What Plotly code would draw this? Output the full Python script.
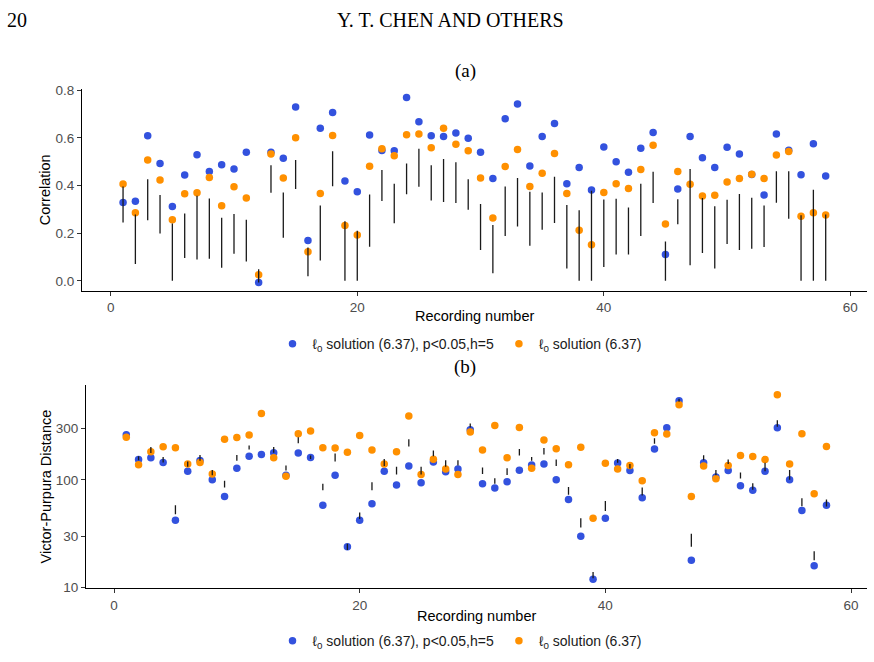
import plotly.graph_objects as go

# ---------------- data ----------------
rec = list(range(1, 59))

corr_l0_p = [0.329, 0.334, 0.609, 0.493, 0.312, 0.444, 0.529, 0.459, 0.487, 0.469,
             0.540, -0.007, 0.540, 0.515, 0.730, 0.169, 0.641, 0.707, 0.419, 0.374,
             0.612, 0.547, 0.546, 0.770, 0.668, 0.609, 0.606, 0.621, 0.599, 0.540,
             0.430, 0.680, 0.742, 0.482, 0.606, 0.660, 0.408, 0.476, 0.381, 0.562,
             0.500, 0.456, 0.557, 0.623, 0.110, 0.386, 0.606, 0.517, 0.476, 0.561,
             0.532, 0.446, 0.360, 0.616, 0.548, 0.445, 0.576, 0.440]
corr_l0 = [0.407, 0.286, 0.507, 0.423, 0.256, 0.366, 0.370, 0.434, 0.315, 0.395,
           0.348, 0.025, 0.532, 0.432, 0.601, 0.122, 0.367, 0.610, 0.232, 0.192,
           0.481, 0.555, 0.525, 0.613, 0.616, 0.559, 0.641, 0.573, 0.546, 0.432,
           0.264, 0.480, 0.551, 0.396, 0.452, 0.535, 0.367, 0.212, 0.151, 0.371,
           0.408, 0.388, 0.467, 0.569, 0.239, 0.459, 0.405, 0.356, 0.359, 0.415,
           0.430, 0.447, 0.430, 0.528, 0.543, 0.271, 0.286, 0.276]
corr_lo = [0.245, 0.071, 0.254, 0.199, 0.0, 0.096, 0.089, 0.093, 0.055, 0.114,
           0.081, -0.007, 0.370, 0.181, 0.385, 0.019, 0.085, 0.397, 0.0, 0.0,
           0.143, 0.335, 0.242, 0.363, 0.395, 0.337, 0.331, 0.327, 0.298, 0.129,
           0.032, 0.188, 0.228, 0.147, 0.214, 0.243, 0.052, 0.0, 0.0, 0.058,
           0.110, 0.110, 0.188, 0.327, 0.0, 0.238, 0.065, 0.117, 0.052, 0.155,
           0.129, 0.135, 0.142, 0.328, 0.261, 0.0, 0.0, 0.0]
corr_hi = [0.396, 0.278, 0.426, 0.360, 0.241, 0.283, 0.357, 0.346, 0.265, 0.280,
           0.256, 0.048, 0.485, 0.371, 0.507, 0.140, 0.316, 0.544, 0.250, 0.210,
           0.362, 0.465, 0.408, 0.493, 0.555, 0.485, 0.511, 0.498, 0.426, 0.323,
           0.234, 0.396, 0.432, 0.374, 0.371, 0.437, 0.318, 0.296, 0.378, 0.341,
           0.345, 0.308, 0.408, 0.458, 0.165, 0.342, 0.469, 0.348, 0.313, 0.340,
           0.364, 0.349, 0.316, 0.460, 0.460, 0.275, 0.382, 0.278]

vp_l0_p = [262, 154, 160, 145, 42.1, 120, 151, 100, 70, 128,
           165, 172, 178, 110, 177, 161, 58, 110, 23.9, 42.1,
           60, 120, 89.5, 134, 94, 146, 119, 126, 291, 92,
           84, 96, 122.5, 137, 140, 100, 65.8, 29.9, 12.0, 43.9,
           143, 122, 68, 193, 303, 541, 18.0, 144, 106, 122,
           88, 80, 120, 303, 100, 51.9, 16, 58]
vp_l0 = [248, 138, 182, 202, 198, 140, 145, 113, 238, 246,
         260, 412, 160, 108, 267, 283, 198, 197, 180, 258,
         189, 140, 182, 390, 112, 155, 126, 112, 277, 189,
         318, 160, 305, 128, 234, 194, 138, 200, 43.9, 142,
         126, 136, 98, 273, 266, 497, 70, 134, 102, 136,
         168, 164, 154, 614, 140, 267, 74.1, 204]
vp_lo = [None, 152, 177, 145, 48, 132, 150, 110, 85, 150,
         191, None, 178, 122, 218, 156, 80, 148, 22.3, 43.3,
         80, 134, 112, 204, 112, 165, 132, 136, 305, 113,
         92, 111, 168, 150, 172, 134, 72.6, 36.1, 12.2, 51.5,
         144, 127, 71.6, 216, None, 530, 23.9, 152, 110, 140,
         103, 81, 120, 310, 100, 57, 18, 56.5]
vp_hi = [None, 165, 201, 163, 58, 148, 170, 123, 98, 170,
         208, None, 201, 136, 248, 168, 92, 175, 25.6, 49.8,
         95, 156, 132, 238, 132, 187, 152, 152, 332, 130,
         103.5, 128, 193, 163, 197, 154, 85.7, 43.9, 14.0, 63.5,
         156, 140, 85, 243, None, 565, 31.6, 169, 123, 154,
         117, 93, 144, 356, 123, 67.6, 21.8, 65.8]

x_ticks = [0, 20, 40, 60]
corr_ticks = [0.0, 0.2, 0.4, 0.6, 0.8]
vp_ticks = [10, 30, 100, 300]

name_p = "ℓ<sub>0</sub> solution (6.37), p&lt;0.05,h=5"
name_o = "ℓ<sub>0</sub> solution (6.37)"

BLUE = "#3352DE"
ORANGE = "#FF9000"
SANS = "Liberation Sans, Arial, sans-serif"
SERIF = "Liberation Serif, Times New Roman, serif"


def seg_xy(xs, lo, hi):
    sx, sy = [], []
    for x, a, b in zip(xs, lo, hi):
        if a is None or b is None:
            continue
        sx += [x, x, None]
        sy += [a, b, None]
    return sx, sy


fig = go.Figure()

# panel (a)
fig.add_trace(go.Scatter(x=rec, y=corr_l0_p, mode="markers", name=name_p,
                         marker=dict(color=BLUE, size=7.5), xaxis="x", yaxis="y",
                         legend="legend"))
fig.add_trace(go.Scatter(x=rec, y=corr_l0, mode="markers", name=name_o,
                         marker=dict(color=ORANGE, size=7.5), xaxis="x", yaxis="y",
                         legend="legend"))
sx, sy = seg_xy(rec, corr_lo, corr_hi)
fig.add_trace(go.Scatter(x=sx, y=sy, mode="lines", line=dict(color="#1a1a1a", width=1.3),
                         showlegend=False, xaxis="x", yaxis="y", hoverinfo="skip"))

# panel (b)
fig.add_trace(go.Scatter(x=rec, y=vp_l0_p, mode="markers", name=name_p,
                         marker=dict(color=BLUE, size=7.5), xaxis="x2", yaxis="y2",
                         legend="legend2"))
fig.add_trace(go.Scatter(x=rec, y=vp_l0, mode="markers", name=name_o,
                         marker=dict(color=ORANGE, size=7.5), xaxis="x2", yaxis="y2",
                         legend="legend2"))
sx2, sy2 = seg_xy(rec, vp_lo, vp_hi)
fig.add_trace(go.Scatter(x=sx2, y=sy2, mode="lines", line=dict(color="#1a1a1a", width=1.3),
                         showlegend=False, xaxis="x2", yaxis="y2", hoverinfo="skip"))

W, H = 874, 662


def px(x):
    return x / W


def py(y):
    return 1 - y / H


axis_common = dict(showline=True, linecolor="black", linewidth=1, showgrid=False,
                   zeroline=False, ticks="outside", ticklen=4, tickwidth=1,
                   tickcolor="#333333", tickfont=dict(family=SANS, size=13.5, color="#4d4d4d"))

fig.update_layout(
    width=W, height=H,
    margin=dict(l=0, r=0, t=0, b=0),
    paper_bgcolor="white", plot_bgcolor="white",
    xaxis=dict(domain=[px(82), px(867)], range=[-2.33, 61.35], anchor="y",
               tickvals=x_ticks, **axis_common),
    yaxis=dict(domain=[py(291), py(85)], range=[-0.044, 0.804], anchor="x",
               tickvals=corr_ticks, tickformat=".1f", **axis_common),
    xaxis2=dict(domain=[px(86), px(867)], range=[-2.28, 61.3], anchor="y2",
                tickvals=x_ticks, **axis_common),
    yaxis2=dict(domain=[py(594), py(387)], type="log", range=[0.994, 2.875], anchor="x2",
                tickvals=vp_ticks, ticktext=[str(v) for v in vp_ticks], **axis_common),
    legend=dict(orientation="h", x=px(460), xanchor="center", y=py(345), yanchor="middle",
                font=dict(family=SANS, size=14, color="#1a1a1a"), bgcolor="rgba(0,0,0,0)",
                itemwidth=30, tracegroupgap=0),
    legend2=dict(orientation="h", x=px(460), xanchor="center", y=py(648), yanchor="middle",
                 font=dict(family=SANS, size=14, color="#1a1a1a"), bgcolor="rgba(0,0,0,0)",
                 itemwidth=30, tracegroupgap=0),
    showlegend=True,
)

annots = [
    dict(text="20", x=px(5), y=py(14), xanchor="left", yanchor="middle",
         font=dict(family=SERIF, size=20, color="black")),
    dict(text="Y. T. CHEN AND OTHERS", x=px(450), y=py(14), xanchor="center", yanchor="middle",
         font=dict(family=SERIF, size=20, color="black")),
    dict(text="(a)", x=px(466), y=py(66), xanchor="center", yanchor="middle",
         font=dict(family=SERIF, size=19, color="black")),
    dict(text="(b)", x=px(465), y=py(368), xanchor="center", yanchor="middle",
         font=dict(family=SERIF, size=19, color="black")),
    dict(text="Recording number", x=px(474.5), y=py(316), xanchor="center", yanchor="middle",
         font=dict(family=SANS, size=14.5, color="black")),
    dict(text="Recording number", x=px(476.5), y=py(622), xanchor="center", yanchor="middle",
         font=dict(family=SANS, size=14.5, color="black")),
    dict(text="Correlation", x=px(45), y=py(188), xanchor="center", yanchor="middle",
         textangle=-90, font=dict(family=SANS, size=14.5, color="black")),
    dict(text="Victor-Purpura Distance", x=px(46), y=py(490), xanchor="center", yanchor="middle",
         textangle=-90, font=dict(family=SANS, size=14.5, color="black")),
]
for a in annots:
    a.update(xref="paper", yref="paper", showarrow=False)
fig.update_layout(annotations=annots)

fig.write_html("out.html")
